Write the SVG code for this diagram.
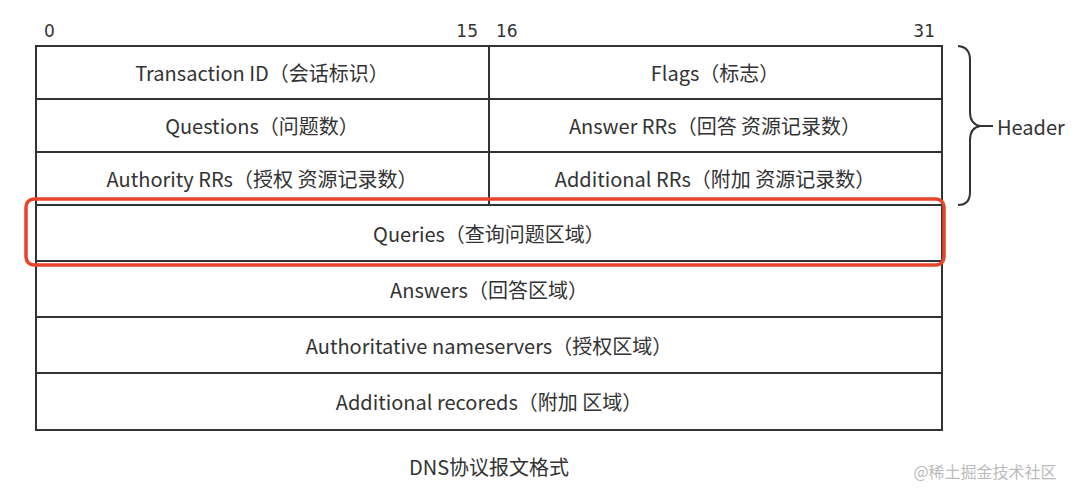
<svg xmlns="http://www.w3.org/2000/svg" width="1080" height="490" viewBox="0 0 1080 490">
<style>
.t{font-family:"Noto Sans CJK SC","Noto Sans",sans-serif;font-size:20px;fill:#333;text-anchor:middle;dominant-baseline:central}
.n{font-family:"DejaVu Sans","Noto Sans",sans-serif;font-size:17px;fill:#333}
.ln{stroke:#333;stroke-width:2;fill:none}
</style>
<rect width="1080" height="490" fill="#fff"/>
<g id="bits">
<text class="n" x="44" y="37">0</text>
<text class="n" x="478" y="37" style="text-anchor:end">15</text>
<text class="n" x="496" y="37">16</text>
<text class="n" x="935" y="37" style="text-anchor:end">31</text>
</g>
<g id="table" class="ln">
<rect x="36" y="46" width="906" height="384"/>
<line x1="489" y1="46" x2="489" y2="205"/>
<line x1="36" y1="99" x2="942" y2="99"/>
<line x1="36" y1="152" x2="942" y2="152"/>
<line x1="36" y1="205" x2="942" y2="205"/>
<line x1="36" y1="261" x2="942" y2="261"/>
<line x1="36" y1="317" x2="942" y2="317"/>
<line x1="36" y1="373" x2="942" y2="373"/>
</g>
<g id="n-transaction"><text class="t" x="262" y="72">Transaction ID（会话标识）</text></g>
<g id="n-flags"><text class="t" x="715" y="72">Flags（标志）</text></g>
<g id="n-questions"><text class="t" x="262" y="125">Questions（问题数）</text></g>
<g id="n-answerrrs"><text class="t" x="715" y="125">Answer RRs（回答 资源记录数）</text></g>
<g id="n-authrrs"><text class="t" x="262" y="178">Authority RRs（授权 资源记录数）</text></g>
<g id="n-addrrs"><text class="t" x="715" y="178">Additional RRs（附加 资源记录数）</text></g>
<g id="n-queries"><text class="t" x="489" y="233">Queries（查询问题区域）</text></g>
<g id="n-answers"><text class="t" x="489" y="289">Answers（回答区域）</text></g>
<g id="n-authns"><text class="t" x="489" y="345">Authoritative nameservers（授权区域）</text></g>
<g id="n-addrec"><text class="t" x="489" y="401">Additional recoreds（附加 区域）</text></g>
<g id="highlight"><rect x="26" y="199" width="918" height="66" rx="8" fill="none" stroke="#e8442c" stroke-width="3.5"/></g>
<g id="header">
<path class="ln" d="M958 46 Q970 47 970 60 L970 112 Q970 124 980 126 Q970 128 970 140 L970 192 Q970 205 958 205"/>
<line class="ln" x1="980" y1="126" x2="993" y2="126"/>
<text class="t" x="997" y="126" style="text-anchor:start">Header</text>
</g>
<text class="t" x="489" y="466">DNS协议报文格式</text>
<text class="t" x="985" y="471" style="font-size:16px;fill:#bbb">@稀土掘金技术社区</text>
</svg>
